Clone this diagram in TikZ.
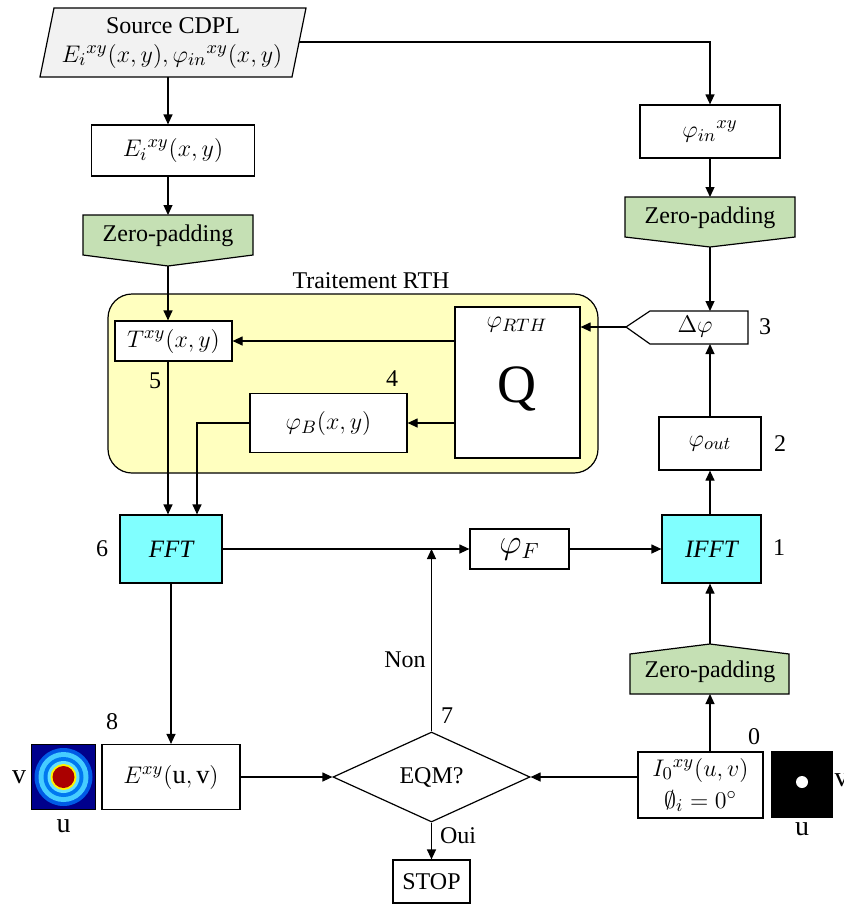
\documentclass[tikz,border=0pt]{standalone}
\usepackage{fontspec}
\setmainfont{Liberation Serif}
\usetikzlibrary{arrows.meta,shapes.geometric}
\definecolor{padgreen}{HTML}{C5E0B4}
\definecolor{rthyellow}{HTML}{FFFFBF}
\definecolor{fftcyan}{HTML}{80FFFF}
\definecolor{srcgray}{HTML}{F2F2F2}
\definecolor{mapnavy}{RGB}{0,0,140}
\definecolor{mapblue}{RGB}{0,90,230}
\definecolor{mapcyan}{RGB}{70,205,255}
\definecolor{mapmid}{RGB}{0,120,240}
\definecolor{maplight}{RGB}{100,225,255}
\definecolor{mapred}{RGB}{170,0,0}
% formulas are set a little larger than the plain text
\newcommand\mathtxt[1]{{\fontsize{13.2}{15}\selectfont$#1$}}
\begin{document}
\begin{tikzpicture}[x=0.5pt,y=-0.5pt,
  line width=0.6pt,
  >={Triangle[length=5pt,width=4.5pt]},
  every node/.style={font=\fontsize{12}{14}\selectfont},
  box/.style={draw,fill=white,inner sep=0pt},
  fftbox/.style={box,fill=fftcyan,font=\fontsize{12.5}{14}\selectfont\itshape},
  padshape/.style={draw,fill=padgreen},
  num/.style={inner sep=1pt}]
\useasboundingbox (0,0) rectangle (843,905);

% column positions
\coordinate (colL) at (168,0);
\coordinate (colB) at (197,0);
\coordinate (colR) at (710,0);

% source
\draw[fill=srcgray] (54,8) -- (306,8) -- (292,77) -- (40,77) -- cycle;
\node (srcT) at (173,26) {Source CDPL};
\node (srcM) at (172,56) {\mathtxt{E_i{}^{xy}(x,y),\varphi_{in}{}^{xy}(x,y)}};
\coordinate (srcB) at (168,77);
\coordinate (srcR) at (299,42);

% left column
\node[box,minimum width=81.5pt,minimum height=25.5pt] (Ei) at (173,150.5) {\mathtxt{E_i{}^{xy}(x,y)}};
\draw[padshape] (83,215) -- (253,215) -- (253,255) -- (168,266) -- (83,255) -- cycle;
\node (zpL) at (168,236) {Zero-padding};
\coordinate (zpLtop) at (168,215);
\coordinate (zpLbot) at (168,266);

% RTH processing block
\draw[fill=rthyellow,rounded corners=12pt] (108,294) rectangle (598,473);
\node (rth) at (371,281) {Traitement RTH};
\node[box,minimum width=58.5pt,minimum height=20pt] (T) at (173.5,341) {\mathtxt{T^{xy}(x,y)}};
\node[box,minimum width=78.5pt,minimum height=29.5pt] (phiB) at (328.5,423) {\mathtxt{\varphi_B(x,y)}};
\node[box,minimum width=62.5pt,minimum height=75.5pt] (Q) at (517.5,382.5) {};
\node (phiRTH) at (517,325) {\mathtxt{\varphi_{RTH}}};
\node (Qlbl) at (517,389) {\fontsize{27}{30}\selectfont Q};

% right column
\node[box,minimum width=70pt,minimum height=26.5pt] (phiin) at (710,131.5) {\mathtxt{\varphi_{in}{}^{xy}}};
\draw[padshape] (625,197) -- (795,197) -- (795,237) -- (710,247) -- (625,237) -- cycle;
\node (zpR) at (710,218) {Zero-padding};
\coordinate (zpRtop) at (710,197);
\coordinate (zpRbot) at (710,247);
\draw[fill=white] (626,327) -- (650,311) -- (748,311) -- (748,344) -- (650,344) -- cycle;
\node (dphi) at (695,327) {\mathtxt{\Delta\varphi}};
\coordinate (dTip) at (626,327);
\coordinate (dTop) at (710,311);
\coordinate (dBot) at (710,344);
\node[box,minimum width=51pt,minimum height=26.5pt] (phiout) at (710,443.5) {\mathtxt{\varphi_{out}}};

% transform row
\node[fftbox,minimum width=51pt,minimum height=34pt] (FFT) at (171,549) {FFT};
\node[box,minimum width=49.5pt,minimum height=20pt] (phiF) at (519.5,549) {{\fontsize{16}{18}\selectfont$\varphi_F$}};
\node[fftbox,minimum width=49.5pt,minimum height=34pt] (IFFT) at (711.5,549) {IFFT};

% bottom row
\draw[padshape] (630,654) -- (710,644) -- (789,654) -- (789,694) -- (630,694) -- cycle;
\node (zpB) at (710,672) {Zero-padding};
\coordinate (zpBtop) at (710,644);
\coordinate (zpBbot) at (710,694);
\node[box,minimum width=69pt,minimum height=32.5pt] (E) at (171,777) {\mathtxt{E^{xy}(\mathrm{u},\mathrm{v})}};
\node[draw,fill=white,shape=diamond,inner sep=0pt,minimum width=98.5pt,minimum height=45pt] (dia) at (431.5,777) {EQM?};
\node[box,minimum width=62.5pt,minimum height=33pt,align=center] (I0) at (700.5,785) {\mathtxt{I_0{}^{xy}(u,v)}\\[2pt]\mathtxt{\emptyset_i=0^\circ}};
\node[box,minimum width=38.5pt,minimum height=21.5pt] (STOP) at (431.5,881.5) {STOP};

% far-field intensity maps
\node[inner sep=0pt,minimum width=31.5pt,minimum height=32pt] (imgL) at (63.5,777) {};
\fill[mapnavy] (imgL.south west) rectangle (imgL.north east);
\fill[mapblue] (imgL.center) circle (29);
\fill[mapcyan] (imgL.center) circle (25);
\fill[mapmid] (imgL.center) circle (20);
\fill[maplight] (imgL.center) circle (16);
\fill[yellow] (imgL.center) circle (13);
\fill[mapred] (imgL.center) circle (11);
\draw[line width=0.4pt] (imgL.south west) rectangle (imgL.north east);
\node (vL) at (19,777) {\fontsize{14}{16}\selectfont v};
\node (uL) at (63.5,826) {\fontsize{14}{16}\selectfont u};

\node[inner sep=0pt,minimum width=30pt,minimum height=32.5pt] (imgR) at (802,784.5) {};
\fill[black] (imgR.south west) rectangle (imgR.north east);
\fill[white] (802,782) circle (6);
\node[anchor=west,inner sep=0pt] (vR) at (834,780) {\fontsize{14}{16}\selectfont v};
\node (uR) at (802,829) {\fontsize{14}{16}\selectfont u};

% step numbers
\node[num] (n0) at (754,737) {0};
\node[num] (n1) at (779,548) {1};
\node[num] (n2) at (780,444) {2};
\node[num] (n3) at (765,327) {3};
\node[num] (n4) at (392,379) {4};
\node[num] (n5) at (155,381) {5};
\node[num] (n6) at (102,549) {6};
\node[num] (n7) at (447,716) {7};
\node[num] (n8) at (112,722) {8};
\node (non) at (405,660) {Non};
\node (oui) at (458,836) {Oui};

% connectors
\draw[->] (srcB) -- (Ei.north -| srcB);
\draw[->] (Ei.south -| colL) -- (zpLtop);
\draw[->] (zpLbot) -- (T.north -| colL);
\draw[->] (srcR) -| (phiin.north);
\draw[->] (phiin.south) -- (zpRtop);
\draw[->] (zpRbot) -- (dTop);
\draw[->] (phiout.north) -- (dBot);
\draw[->] (dTip) -- (Q.east |- dTip);
\draw[->] (Q.west |- T.east) -- (T.east);
\draw[->] (Q.west |- phiB.east) -- (phiB.east);
\draw[->] (T.south -| colL) -- (FFT.north -| colL);
\draw[->] (phiB.west) -| (FFT.north -| colB);
\draw[->] (FFT.east) -- (phiF.west);
\draw[->] (phiF.east) -- (IFFT.west);
\draw[->] (IFFT.north -| colR) -- (phiout.south -| colR);
\draw[->] (zpBtop) -- (IFFT.south -| colR);
\draw[->] (I0.north -| colR) -- (zpBbot);
\draw[->] (FFT.south) -- (E.north);
\draw[->] (E.east) -- (dia.west);
\draw[->] (I0.west |- dia.east) -- (dia.east);
\draw[->] (dia.north) -- (dia.north |- phiF.west);
\draw[->] (dia.south) -- (STOP.north);
\end{tikzpicture}
\end{document}
